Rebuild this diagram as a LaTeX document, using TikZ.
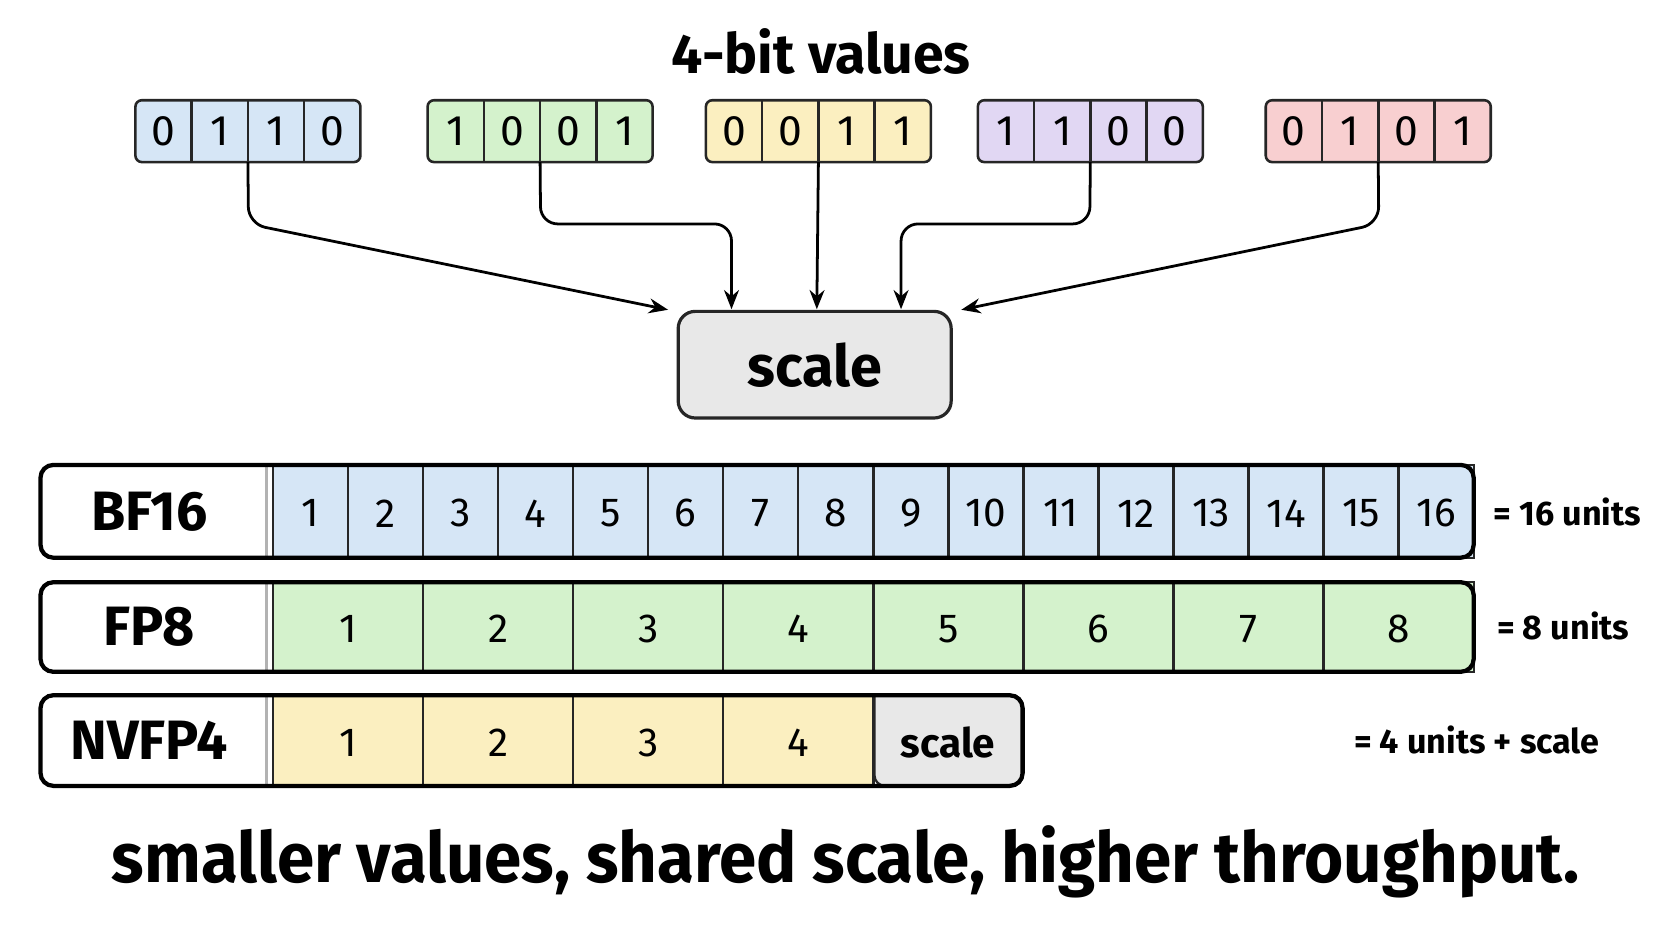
\documentclass[tikz,border=0pt]{standalone}
\usepackage{fontspec}
\setmainfont{Fira Sans}
\usepackage{graphicx}
\usetikzlibrary{arrows.meta}
\begin{document}
\begin{tikzpicture}[x=0.5pt,y=-0.5pt,
  cellb/.style={draw=black!85,line width=1.2pt,fill=#1},
  bit/.style={font=\fontsize{20}{24}\selectfont},
  rowd/.style={font=\fontsize{19}{22}\selectfont},
  arr/.style={-{Stealth[length=9pt,width=7pt]},line width=1.3pt,rounded corners=8pt},
  lbl/.style={font=\bfseries\fontsize{26}{30}\selectfont},
  side/.style={font=\fontsize{16}{20}\selectfont\bfseries}]
\definecolor{cb}{HTML}{D6E6F6}
\definecolor{cg}{HTML}{D4F2CC}
\definecolor{cy}{HTML}{FBEFC0}
\definecolor{cp}{HTML}{E1D7F3}
\definecolor{cr}{HTML}{F8CFD0}
\definecolor{cgr}{HTML}{E8E8E8}
\useasboundingbox (0,0) rectangle (1568,882);
\fill[white] (0,0) rectangle (1568,882);
\node[font=\bfseries\fontsize{26}{30}\selectfont] (title) at (770,48) {4-bit values};
% top groups
\foreach \g/\x/\c/\bits in {1/127/cb/{0,1,1,0},2/401/cg/{1,0,0,1},3/662/cy/{0,0,1,1},4/917/cp/{1,1,0,0},5/1187/cr/{0,1,0,1}}{
  \draw[cellb=\c,rounded corners=3pt] (\x,94) rectangle (\x+211,152);
  \foreach \b [count=\i] in \bits {
    \node[bit,minimum width=26pt,minimum height=29pt] (g\g c\i) at (\x+26.4+52.75*\i-52.75,123) {\b};
  }
  \foreach \k in {1,2,3} \draw[line width=1.2pt,black!85] (\x+52.75*\k,94) -- (\x+52.75*\k,152);
  \coordinate (g\g m) at (\x+105.5,152);
}
\node[draw=black!85,line width=1.5pt,fill=cgr,rounded corners=8pt,minimum width=128pt,minimum height=50pt,font=\bfseries\fontsize{27}{30}\selectfont] (scale) at (764,342) {scale};
\draw[arr] (g1m) -- (233,210) -- ([xshift=-4pt]scale.north west);
\draw[arr] (g2m) -- (507,210) -- (686,210) -- (686,290);
\draw[arr] (g3m) -- (766,290);
\draw[arr] (g4m) -- (1022,210) -- (845,210) -- (845,290);
\draw[arr] (g5m) -- (1293,210) -- ([xshift=4pt]scale.north east);
% rows
\foreach \r/\ya/\yb/\n/\w/\c/\name in {1/436/523/16/70.375/cb/BF16,2/546/630/8/140.75/cg/FP8,3/652/737/4/140.75/cy/NVFP4}{
  \node[lbl] (lab\r) at (140,{(\ya+\yb)/2}) {\name};
  \foreach \i in {1,...,\n}{
    \draw[line width=1.1pt,black!85,fill=\c] (256+\w*\i-\w,\ya) rectangle (256+\w*\i,\yb);
    \node[rowd] (r\r c\i) at (256+\w*\i-\w/2,{(\ya+\yb)/2+2}) {\i};
  }
  \draw[line width=1.5pt,gray!60] (250,\ya+2) -- (250,\yb-2);
}
\draw[line width=1.1pt,black!85,fill=cgr,rounded corners=5pt] (820,652) -- (959,652) -- (959,737) -- (820,737) [sharp corners]-- cycle;
\node[font=\fontsize{19}{22}\selectfont\bfseries] (r3s) at (889,696) {scale};
\draw[line width=2pt,rounded corners=6pt] (38,436) rectangle (1382,523);
\draw[line width=2pt,rounded corners=6pt] (38,546) rectangle (1382,630);
\draw[line width=2pt,rounded corners=6pt] (38,652) rectangle (959,737);
\node[side] (u1) at (1470,480) {= 16 units};
\node[side] (u2) at (1466,587) {= 8 units};
\node[side] (u3) at (1385,694) {= 4 units + scale};
\node[inner sep=0] (bottom) at (793,808) {\resizebox*{688pt}{34pt}{\bfseries smaller values, shared scale, higher throughput.}};
\end{tikzpicture}
\end{document}
